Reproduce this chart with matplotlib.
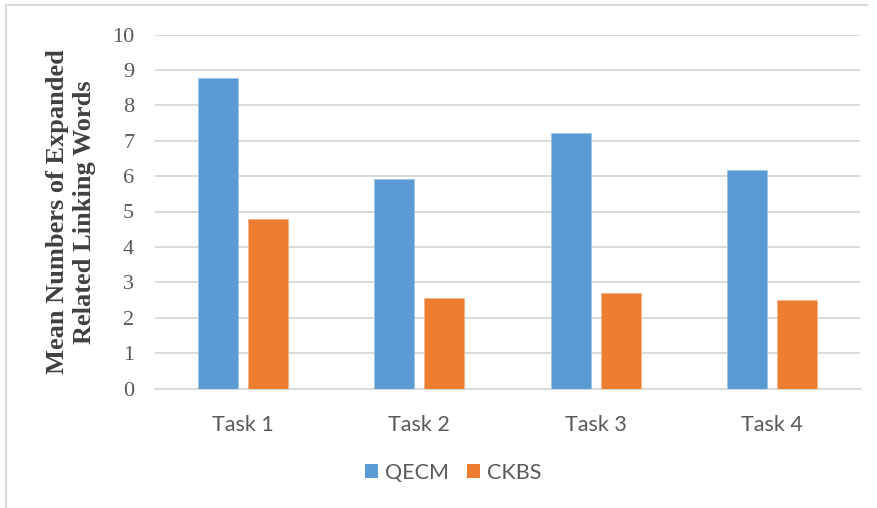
import numpy as np
import matplotlib
matplotlib.use("Agg")
import matplotlib.pyplot as plt
from matplotlib.lines import Line2D
from matplotlib.patches import Patch

tasks = ["Task 1", "Task 2", "Task 3", "Task 4"]
qecm = [8.77, 5.91, 7.21, 6.16]
ckbs = [4.78, 2.55, 2.69, 2.50]
series_names = ["QECM", "CKBS"]

BLUE = "#5B9BD5"
ORANGE = "#ED7D31"
GRID = "#D9D9D9"
TEXT = "#595959"

W, H = 877, 508
fig = plt.figure(figsize=(W / 100, H / 100), dpi=100)
ax = fig.add_axes([155 / W, 1 - 388.5 / H, 705 / W, 354 / H])

x = np.arange(len(tasks))
bw = 0.227
off = 0.142
ax.bar(x - off, qecm, bw, color=BLUE, edgecolor="#9DC3E6", linewidth=0.6, zorder=3)
ax.bar(x + off, ckbs, bw, color=ORANGE, edgecolor="#F4B183", linewidth=0.6, zorder=3)

ax.set_xlim(-0.5, len(tasks) - 0.5)
ax.set_ylim(0, 10)
ax.set_yticks(range(0, 11))
ax.set_xticks(x)
ax.set_xticklabels(tasks, family="Lato", fontsize=15.5, color=TEXT)
for lab in ax.get_yticklabels():
    lab.set_family("Liberation Serif")
    lab.set_fontsize(16)
    lab.set_color(TEXT)

ax.grid(axis="y", color=GRID, linewidth=1.4, zorder=0)
ax.set_axisbelow(True)
for s in ["top", "right", "left"]:
    ax.spines[s].set_visible(False)
ax.spines["bottom"].set_color(GRID)
ax.spines["bottom"].set_linewidth(1.4)
ax.tick_params(axis="both", length=0)
ax.tick_params(axis="y", pad=15)
ax.tick_params(axis="x", pad=19)

# two-line axis title
fig.text(71 / W, 1 - 212 / H, "Mean Numbers of Expanded\nRelated Linking Words",
         rotation=90, ha="center", va="center", multialignment="center",
         family="Liberation Serif", fontweight="bold", fontsize=19,
         color="#404040", linespacing=1.2)

handles = [Patch(facecolor=BLUE, edgecolor="none"), Patch(facecolor=ORANGE, edgecolor="none")]
fig.legend(handles, series_names, loc="center", bbox_to_anchor=(453 / W, 1 - 473 / H),
           ncol=2, frameon=False, prop={"family": "Lato", "size": 15.5},
           labelcolor=TEXT, handlelength=0.62, handleheight=0.62,
           handletextpad=0.3, columnspacing=0.85)

# chart frame
fig.add_artist(Line2D([6 / W, 6 / W], [0, 1 - 5 / H], color=GRID, linewidth=1.6))
fig.add_artist(Line2D([6 / W, 867 / W], [1 - 5 / H, 1 - 5 / H], color=GRID, linewidth=1.6))

fig.savefig("out.png", dpi=100)
